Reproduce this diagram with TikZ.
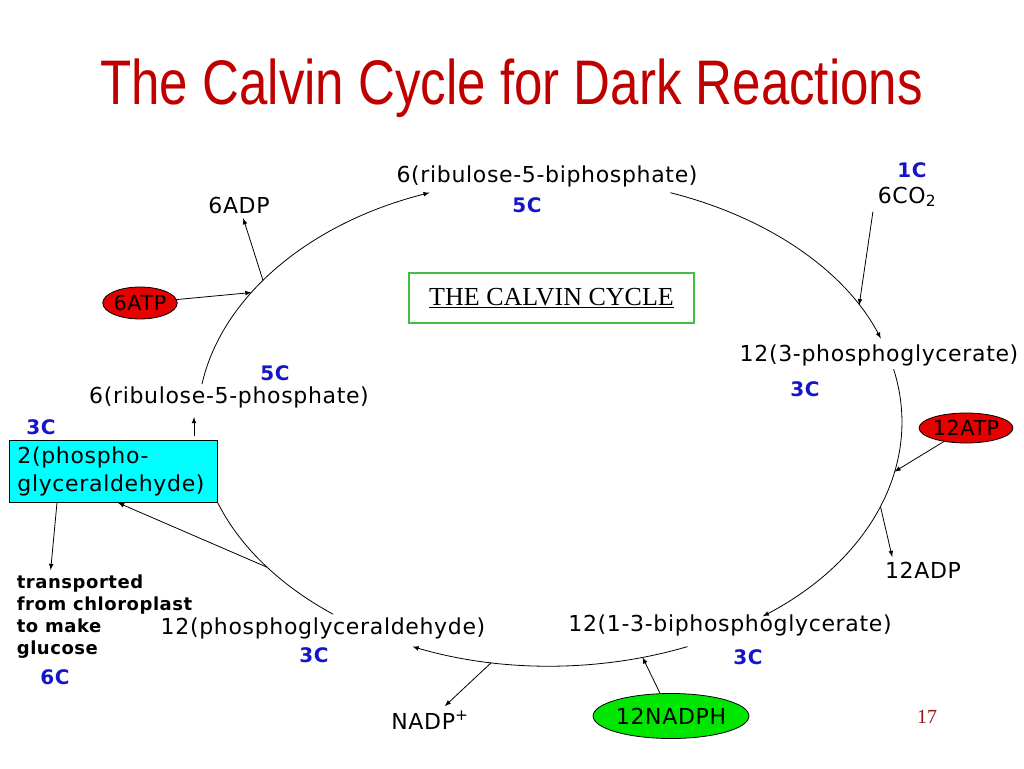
\documentclass[tikz,border=0pt]{standalone}
\usepackage{fontspec}
\usepackage{tikz}
\usetikzlibrary{arrows}
\usetikzlibrary{shapes.geometric}

\newfontfamily\lblfont{DejaVu Sans}[LetterSpace=3]
\newfontfamily\titlefont{Liberation Sans}[FakeStretch=0.81]
\newfontfamily\seriffont{Liberation Serif}

\definecolor{titlered}{RGB}{192,0,0}
\definecolor{cblue}{RGB}{20,20,200}
\definecolor{atpred}{RGB}{230,0,0}
\definecolor{nadgreen}{RGB}{0,230,0}
\definecolor{boxgreen}{RGB}{70,190,70}
\definecolor{galcyan}{RGB}{0,255,255}
\definecolor{pgred}{RGB}{150,20,20}

\tikzset{
	lbl/.style={font=\lblfont\fontsize{16.5pt}{21pt}\selectfont},
	carb/.style={text=cblue,font=\lblfont\bfseries\fontsize{15pt}{18pt}\selectfont},
	atp/.style={ellipse,draw,fill=atpred,inner sep=0pt,font=\lblfont\fontsize{15.5pt}{18pt}\selectfont},
	nadph/.style={ellipse,draw,fill=nadgreen,inner sep=0pt,lbl},
	cycarrow/.style={->,>=latex}
}

\begin{document}
\begin{tikzpicture}[x=0.75pt,y=-0.75pt,line width=0.6pt]
	\useasboundingbox (0,0) rectangle (1024,768);

	\node[anchor=base west,inner sep=0pt,text=titlered,font=\titlefont\fontsize{47.25pt}{50pt}\selectfont](title) at (100,104) {The Calvin Cycle for Dark Reactions};

	\node[lbl](rubp) at (547,176) {6(ribulose-5-biphosphate)};
	\node[lbl](pga) at (879,355) {12(3-phosphoglycerate)};
	\node[lbl](bpg) at (730,625) {12(1-3-biphosphoglycerate)};
	\node[lbl](gal) at (323,628) {12(phosphoglyceraldehyde)};
	\node[lbl](r5p) at (229,397) {6(ribulose-5-phosphate)};

	\node[carb](c5top) at (527,205) {5C};
	\node[carb](c1) at (912,170) {1C};
	\node[carb](c3pga) at (805,389) {3C};
	\node[carb](c3bpg) at (748,657) {3C};
	\node[carb](c3gal) at (314,655) {3C};
	\node[carb](c5r5p) at (275,373) {5C};
	\node[carb](c3box) at (41,427) {3C};
	\node[carb](c6) at (55,677) {6C};

	\node[lbl](adp6) at (239,205) {6ADP};
	\node[lbl](co2) at (907,197) {6CO\textsubscript{2}};
	\node[lbl](adp12) at (923,570) {12ADP};
	\node[lbl](nadp) at (430,720) {NADP\textsuperscript{+}};

	\node[atp,minimum width=51.75pt,minimum height=24pt](atp6) at (140,303) {6ATP};
	\node[atp,minimum width=60.75pt,minimum height=22.5pt](atp12) at (966,428) {12ATP};
	\node[nadph,minimum width=96.75pt,minimum height=33.75pt](nadph) at (671,716) {12NADPH};

	\node[draw=boxgreen,line width=1.2pt,minimum width=213.75pt,minimum height=37.5pt,font=\seriffont\fontsize{19.5pt}{22pt}\selectfont](cyc) at (551.5,298) {\underline{THE CALVIN CYCLE}};

	\node[draw,fill=galcyan,anchor=north west,align=left,text width=144pt,inner xsep=6pt,minimum height=46.5pt,lbl](box) at (9,440) {2(phospho-\\glyceraldehyde)};
	\node[anchor=north west,align=left,font=\lblfont\bfseries\fontsize{13.5pt}{16.5pt}\selectfont](trans) at (12,570) {transported\\from chloroplast\\to make\\glucose};

	\node[text=pgred,font=\seriffont\fontsize{15pt}{18pt}\selectfont](pg) at (927,717) {17};

	\coordinate (r5pout) at (202,384);
	\coordinate (rubpin) at (429.6,192.7);
	\coordinate (rubpout) at (670.4,192.7);
	\coordinate (pgain) at (880.8,338.5);
	\coordinate (pgaout) at (893.6,369.2);
	\coordinate (bpgin) at (762.8,616.3);
	\coordinate (bpgout) at (687.5,646.6);
	\coordinate (galin) at (412.5,646.6);
	\coordinate (galout) at (333.3,614.3);
	\coordinate (upfrom) at (194,436);
	\coordinate (upto) at (194,417);

	\draw[cycarrow] (r5pout) .. controls (222,296.4) and (309.3,223) .. (rubpin) coordinate[pos=0.377] (atp6in) coordinate[pos=0.433] (adp6out);
	\draw[cycarrow] (rubpout) .. controls (768.2,217.4) and (845.2,270.7) .. (pgain) coordinate[pos=0.83] (co2in);
	\draw[cycarrow] (pgaout) .. controls (923.3,462) and (872.1,558.8) .. (bpgin) coordinate[pos=0.37] (atp12in) coordinate[pos=0.5] (adp12out);
	\draw[cycarrow] (bpgout) .. controls (599.6,672.5) and (500.4,672.5) .. (galin) coordinate[pos=0.167] (nadphin) coordinate[pos=0.71] (nadpout);
	\draw (galout) .. controls (279.7,585.3) and (239.4,546) .. (box.south east) coordinate[pos=0.47] (galbr);

	\draw[cycarrow] (atp6) -- (atp6in);
	\draw[cycarrow] (adp6out) -- (adp6);
	\draw[cycarrow] (co2.south west) -- (co2in);
	\draw[cycarrow] (atp12) -- (atp12in);
	\draw[cycarrow] (adp12out) -- ([xshift=9pt]adp12.north west);
	\draw[cycarrow] (nadph) -- (nadphin);
	\draw[cycarrow] (nadpout) -- (nadp);
	\draw[cycarrow] (galbr) -- ([xshift=81.75pt]box.south west);
	\draw[cycarrow] ([xshift=36pt]box.south west) -- ([xshift=29pt]trans.north west);
	\draw[cycarrow] (upfrom) -- (upto);
\end{tikzpicture}
\end{document}
